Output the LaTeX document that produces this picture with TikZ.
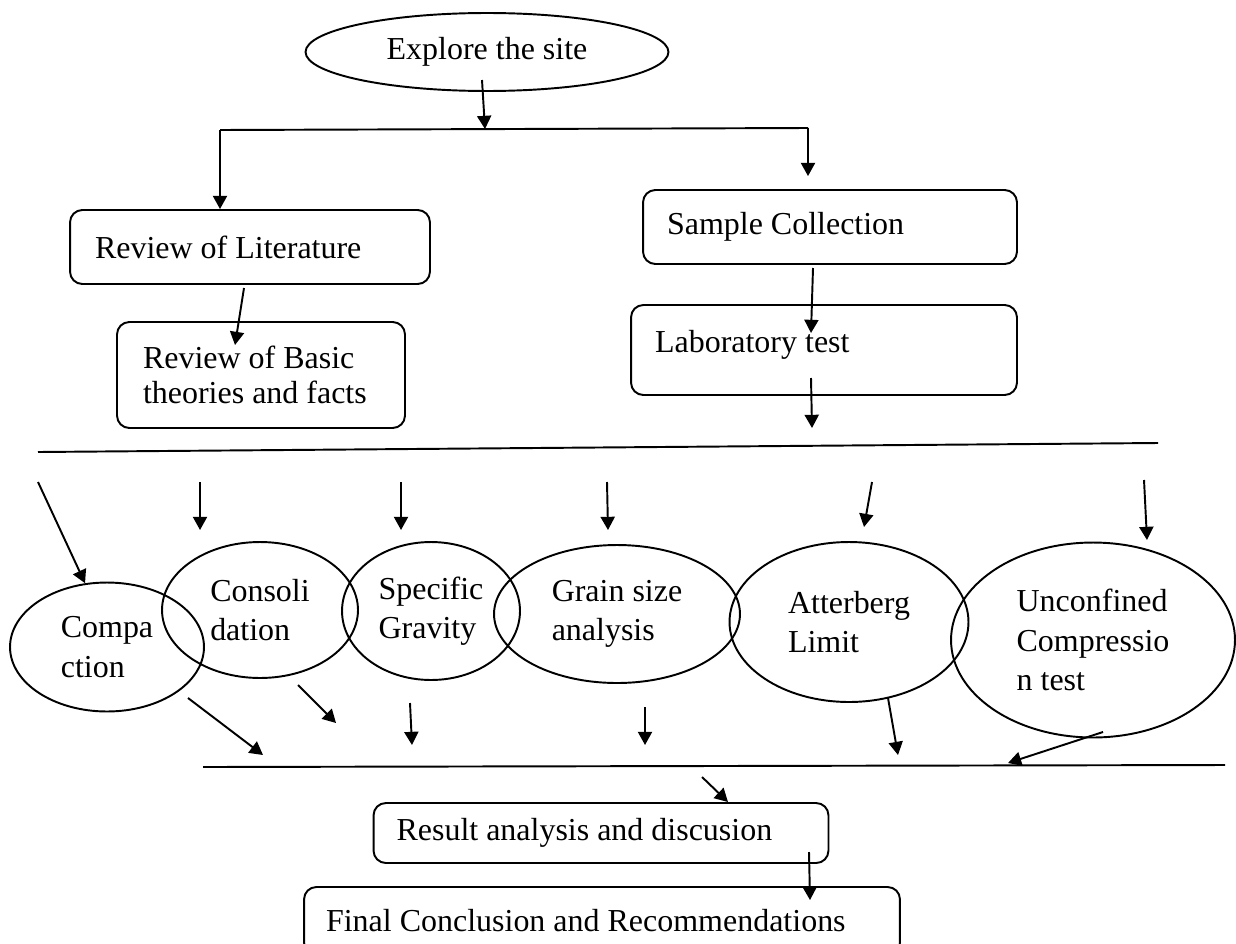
\documentclass[tikz,border=0pt]{standalone}
\usepackage{fontspec}
\setmainfont{Liberation Serif}
\usetikzlibrary{shapes,arrows.meta}

\tikzset{
  oval/.style={draw, ellipse, inner sep=0pt, align=flush left},
  card/.style={draw, rounded corners=7pt, inner ysep=0pt, align=flush left}
}

\begin{document}
\begin{tikzpicture}[x=0.02cm, y=-0.02cm, line width=1.1pt, >={Triangle[length=7.5pt,width=8pt]}, font=\fontsize{18.2}{22.5}\selectfont]

\clip (0,0) rectangle (1236,943);

% top: site and the two branches
\node [oval, minimum width=7.26cm, minimum height=1.56cm] (explore) at (487,52) {Explore the site};
\node [card, text width=6.2cm, inner xsep=0.5cm, minimum height=1.48cm] (lit) at (250,247) {Review of Literature};
\node [card, text width=4.72cm, inner xsep=0.52cm, minimum height=2.12cm, font=\fontsize{18.2}{20}\selectfont] (basic) at (261,375) {Review of Basic\\theories and facts};
\node [card, text width=6.52cm, inner xsep=0.48cm, minimum height=1.48cm] (sample) at (830,227) {Sample Collection};
\node [card, text width=6.76cm, inner xsep=0.48cm, minimum height=1.8cm] (lab) at (824,350) {\raisebox{0.36cm}{Laboratory test}};

\coordinate (e0) at (482,80);
\coordinate (split) at (485,129);
\coordinate (tl) at (220,130);
\coordinate (tr) at (808,128);
\draw [->] (e0) -- (split);
\draw (tl) -- (tr);
\draw [->] (tl) -- (tl |- lit.north);
\draw [->, shorten >=0.26cm] (tr) -- (tr |- sample.north);

\coordinate (l0) at (244,288);
\coordinate (l1) at (235,345);
\draw [->] (l0) -- (l1);
\coordinate (s0) at (813,268);
\coordinate (s1) at (811,333);
\draw [->] (s0) -- (s1);
\coordinate (b0) at (811,378);
\coordinate (b1) at (812,428);
\draw [->] (b0) -- (b1);

% the tests
\coordinate (ml) at (38,452);
\coordinate (mr) at (1158,443);
\draw (ml) -- (mr);

\node [oval, minimum width=3.88cm, minimum height=2.58cm] (comp) at (107,647) {Compa\\ction};
\node [oval, minimum width=3.92cm, minimum height=2.72cm] (cons) at (260,610) {Consoli\\dation};
\node [oval, minimum width=3.56cm, minimum height=2.76cm] (spec) at (431,611) {Specific\\Gravity};
\node [oval, minimum width=4.92cm, minimum height=2.76cm] (grain) at (617,614) {Grain size\\analysis};
\node [oval, minimum width=4.78cm, minimum height=3.2cm] (att) at (849,622) {Atterberg\\Limit};
\node [oval, minimum width=5.68cm, minimum height=3.9cm] (unc) at (1093,640) {Unconfined\\Compressio\\n test};

\coordinate (t1) at (38,482);
\coordinate (t2) at (200,482);
\coordinate (h2) at (200,530);
\coordinate (t3) at (401,482);
\coordinate (h3) at (401,530);
\coordinate (t4) at (607,482);
\coordinate (h4) at (608,530);
\coordinate (t5) at (872,482);
\coordinate (h5) at (864,527);
\coordinate (t6) at (1144,480);
\coordinate (h6) at (1147,540);
\draw [->] (t1) -- (comp.109);
\draw [->] (t2) -- (h2);
\draw [->] (t3) -- (h3);
\draw [->] (t4) -- (h4);
\draw [->] (t5) -- (h5);
\draw [->] (t6) -- (h6);

\coordinate (o1) at (188,698);
\coordinate (p1) at (263,755);
\coordinate (o2) at (298,685);
\coordinate (p2) at (336,723);
\coordinate (o3) at (410,703);
\coordinate (p3) at (412,745);
\coordinate (o4) at (645,707);
\coordinate (p4) at (645,745);
\coordinate (o5) at (888,698);
\coordinate (p5) at (898,755);
\coordinate (o6) at (1103,732);
\coordinate (p6) at (1008,763);
\draw [->] (o1) -- (p1);
\draw [->] (o2) -- (p2);
\draw [->] (o3) -- (p3);
\draw [->] (o4) -- (p4);
\draw [->] (o5) -- (p5);
\draw [->] (o6) -- (p6);

% results
\coordinate (bl) at (203,767);
\coordinate (br) at (1225,765);
\draw (bl) -- (br);

\node [card, text width=8.18cm, inner xsep=0.46cm, minimum height=1.2cm] (result) at (601,833) {Result analysis and discusion};
\node [card, text width=11.04cm, inner xsep=0.44cm, minimum height=1.36cm] (final) at (602,921) {Final Conclusion and Recommendations};

\coordinate (r0) at (702,777);
\coordinate (r1) at (728,802);
\draw [->] (r0) -- (r1);
\coordinate (f0) at (809,852);
\coordinate (f1) at (810,900);
\draw [->] (f0) -- (f1);

\end{tikzpicture}
\end{document}
